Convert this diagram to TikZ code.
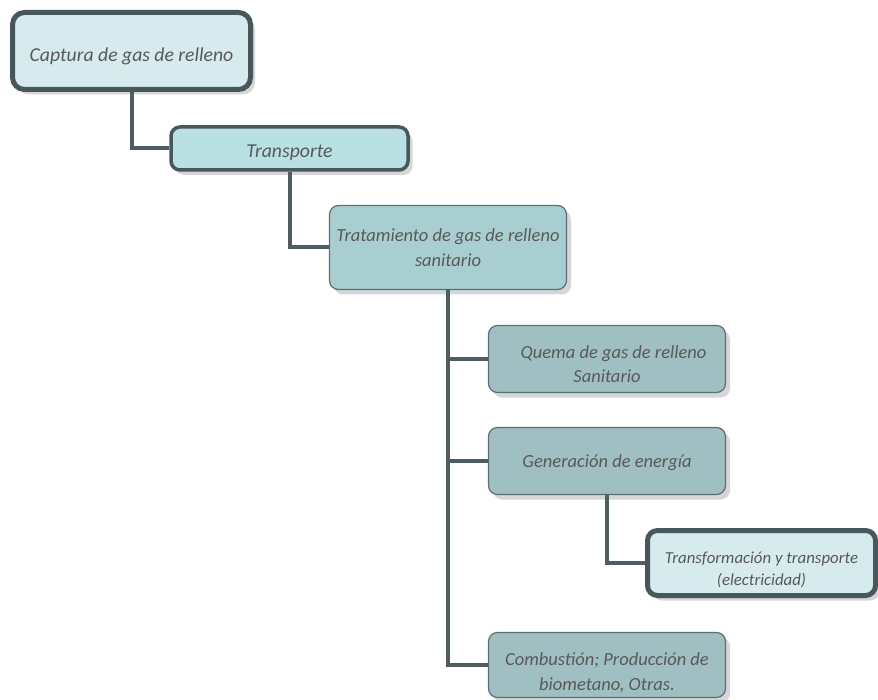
\documentclass[tikz,border=0pt]{standalone}
\usepackage{fontspec}
\setmainfont{Carlito}
\usetikzlibrary{shadows}
\definecolor{edgedark}{HTML}{47575C}
\definecolor{edgethin}{HTML}{5E6F72}
\definecolor{linkcol}{HTML}{4E5D61}
\definecolor{fillpale}{HTML}{D7EBEE}
\definecolor{filllight}{HTML}{B9E0E3}
\definecolor{fillmid}{HTML}{A9CED1}
\definecolor{filldeep}{HTML}{9FBFC3}
\definecolor{txtgray}{HTML}{595959}
\tikzset{
  box/.style={draw, rounded corners=9pt, inner sep=0pt,
    drop shadow={shadow xshift=4.5pt, shadow yshift=-5pt, fill=black!16, opacity=1}},
  heavybox/.style={box, draw=edgedark, line width=5pt, fill=fillpale, rounded corners=12pt},
  midbox/.style={box, draw=edgedark, line width=3.5pt, fill=filllight},
  lightbox/.style={box, draw=edgethin, line width=1.2pt},
  label/.style={inner sep=0pt, align=center, text=txtgray,
    font=\itshape\fontsize{18.5}{24.5}\selectfont},
  biglabel/.style={label, font=\itshape\fontsize{19.7}{24.5}\selectfont},
  link/.style={draw=linkcol, line width=4pt}
}
\begin{document}
\begin{tikzpicture}[x=1pt,y=-1pt]
\useasboundingbox (0,0) rectangle (878,700);

% boxes
\node[heavybox, minimum width=238pt, minimum height=77pt] (cap) at (131.5,51) {};
\node[midbox, minimum width=237pt, minimum height=43pt] (trans) at (289.5,148.5) {};
\node[lightbox, fill=fillmid, minimum width=237pt, minimum height=84pt] (trat) at (448,247.5) {};
\node[lightbox, fill=filldeep, minimum width=237pt, minimum height=67pt] (quema) at (607,359) {};
\node[lightbox, fill=filldeep, minimum width=237pt, minimum height=67pt] (gen) at (607,461) {};
\node[heavybox, rounded corners=10pt, minimum width=228pt, minimum height=65pt] (trf) at (761.5,563) {};
\node[lightbox, fill=filldeep, minimum width=237pt, minimum height=65pt] (comb) at (607,665) {};

% box texts
\node[biglabel] (capt) at ([yshift=-5pt]cap.center) {Captura de gas de relleno};
\node[biglabel] (transt) at ([yshift=-4pt]trans.center) {Transporte};
\node[label] (tratt) at (trat.center) {Tratamiento de gas de relleno\\sanitario};
\node[label] (quemat) at ([yshift=-5pt]quema.center) {\hspace*{13pt}Quema de gas de relleno\\Sanitario};
\node[label] (gent) at ([yshift=-2pt]gen.center) {Generación de energía};
\node[label, font=\itshape\fontsize{16.8}{22}\selectfont] (trft) at ([yshift=-7pt]trf.center)
  {Transformación y transporte\\(electricidad)};
\node[label] (combt) at ([yshift=-8pt]comb.center) {Combustión; Producción de\\biometano, Otras.};

% connectors
\draw[link] (cap.south) |- (trans.west);
\draw[link] (trans.south) |- (trat.west);
\draw[link] (trat.south) |- (quema.west);
\draw[link] (trat.south) |- (gen.west);
\draw[link] (trat.south) |- (comb.west);
\draw[link] (gen.south) |- (trf.west);
\end{tikzpicture}
\end{document}
